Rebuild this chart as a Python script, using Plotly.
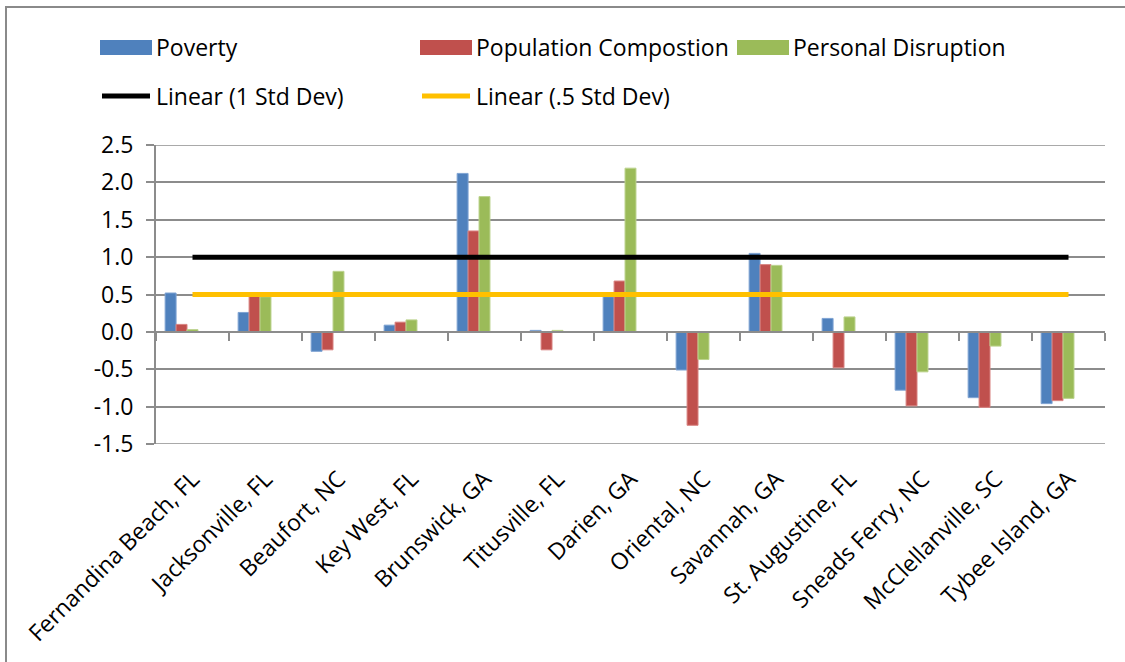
import plotly.graph_objects as go

# ---- data ----
categories = ["Fernandina Beach, FL", "Jacksonville, FL", "Beaufort, NC", "Key West, FL",
              "Brunswick, GA", "Titusville, FL", "Darien, GA", "Oriental, NC",
              "Savannah, GA", "St. Augustine, FL", "Sneads Ferry, NC",
              "McClellanville, SC", "Tybee Island, GA"]
poverty = [0.52, 0.26, -0.26, 0.09, 2.12, 0.02, 0.47, -0.51, 1.05, 0.18, -0.78, -0.88, -0.96]
population_compostion = [0.10, 0.48, -0.24, 0.13, 1.35, -0.24, 0.68, -1.25, 0.90, -0.48, -0.99, -1.01, -0.92]
personal_disruption = [0.03, 0.47, 0.81, 0.16, 1.81, 0.02, 2.19, -0.37, 0.89, 0.20, -0.535, -0.19, -0.89]
std_dev_1 = [1.0, 1.0, 1.0, 1.0, 1.0, 1.0, 1.0, 1.0, 1.0, 1.0, 1.0, 1.0, 1.0]
std_dev_05 = [0.5, 0.5, 0.5, 0.5, 0.5, 0.5, 0.5, 0.5, 0.5, 0.5, 0.5, 0.5, 0.5]
y_ticks = [-1.5, -1.0, -0.5, 0.0, 0.5, 1.0, 1.5, 2.0, 2.5]
y_tick_labels = ["-1.5", "-1.0", "-0.5", "0.0", "0.5", "1.0", "1.5", "2.0", "2.5"]

legend_bars = [("Poverty", "#4F81BD"), ("Population Compostion", "#C0504D"),
               ("Personal Disruption", "#9BBB59")]
legend_lines = [("Linear (1 Std Dev)", "#000000"), ("Linear (.5 Std Dev)", "#FFC000")]

# ---- layout geometry ----
W, H = 1125, 662
L, R, T, B = 156, 20, 145, 218
FONT = "Open Sans"
FS = 23
GRID = "#8c8c8c"


def px(x):
    return (x - L) / (W - L - R)


def py(y):
    return (H - B - y) / (H - T - B)


fig = go.Figure()

bar_colors = ["#4F81BD", "#C0504D", "#9BBB59"]
bar_lines = ["#7FA3D3", "#D98482", "#BCD38E"]
for name, vals, col, lc in zip(["Poverty", "Population Compostion", "Personal Disruption"],
                               [poverty, population_compostion, personal_disruption],
                               bar_colors, bar_lines):
    fig.add_trace(go.Bar(x=categories, y=vals, name=name,
                         marker=dict(color=col, line=dict(color=lc, width=1)),
                         showlegend=False))
# hidden series (only their trendlines are shown)
for name, vals in [("1 Std Dev", std_dev_1), (".5 Std Dev", std_dev_05)]:
    fig.add_trace(go.Bar(x=categories, y=vals, name=name,
                         marker=dict(color="rgba(0,0,0,0)", line=dict(width=0)),
                         showlegend=False, hoverinfo="skip"))

# trendlines on overlay axis (x2)
fig.add_trace(go.Scatter(x=categories, y=std_dev_1, mode="lines", name="Linear (1 Std Dev)",
                         line=dict(color="#000000", width=5), xaxis="x2", yaxis="y", showlegend=False))
fig.add_trace(go.Scatter(x=categories, y=std_dev_05, mode="lines", name="Linear (.5 Std Dev)",
                         line=dict(color="#FFC000", width=5), xaxis="x2", yaxis="y", showlegend=False))

shapes = []
annotations = []
# chart border (only left and top edges are inside the picture)
shapes.append(dict(type="line", xref="paper", yref="paper", x0=px(6), x1=px(6), y0=py(662), y1=py(6),
                   line=dict(color="#8a8a8a", width=2), layer="below"))
shapes.append(dict(type="line", xref="paper", yref="paper", x0=px(5), x1=px(1125), y0=py(7), y1=py(7),
                   line=dict(color="#8a8a8a", width=2), layer="below"))
# edge gridlines (top and bottom of the value axis)
for yv in (y_ticks[0], y_ticks[-1]):
    shapes.append(dict(type="line", xref="paper", yref="y", x0=0, x1=1, y0=yv, y1=yv,
                       line=dict(color=GRID, width=1.5), layer="below"))
# manual legend
bar_x = [100, 420, 737]
for (name, col), x0 in zip(legend_bars, bar_x):
    shapes.append(dict(type="rect", xref="paper", yref="paper", x0=px(x0), x1=px(x0 + 52),
                       y0=py(55), y1=py(40), fillcolor=col, line=dict(width=0)))
    annotations.append(dict(xref="paper", yref="paper", x=px(x0 + 54), y=py(47), text=name,
                            showarrow=False, xanchor="left", yanchor="middle",
                            font=dict(family=FONT, size=FS, color="black")))
line_x = [100, 420]
for (name, col), x0 in zip(legend_lines, line_x):
    shapes.append(dict(type="line", xref="paper", yref="paper", x0=px(x0 + 2), x1=px(x0 + 50),
                       y0=py(96), y1=py(96), line=dict(color=col, width=5)))
    annotations.append(dict(xref="paper", yref="paper", x=px(x0 + 54), y=py(96), text=name,
                            showarrow=False, xanchor="left", yanchor="middle",
                            font=dict(family=FONT, size=FS, color="black")))

fig.update_layout(
    template="none",
    width=W, height=H,
    margin=dict(l=L, r=R, t=T, b=B, autoexpand=False),
    paper_bgcolor="white", plot_bgcolor="white",
    barmode="group", bargap=0.25, bargroupgap=0,
    showlegend=False,
    font=dict(family=FONT, size=FS, color="black"),
    xaxis=dict(type="category", categoryarray=categories, range=[-0.5, 12.5],
               showline=False, showgrid=False, zeroline=False, ticks="", tickangle=-45,
               ticklabelstandoff=16,
               tickfont=dict(family=FONT, size=FS, color="black"), automargin=False),
    xaxis2=dict(type="category", categoryarray=categories, range=[-0.5, 12.5],
                overlaying="x", anchor="free", position=py(331.7), side="bottom",
                showline=True, linecolor=GRID, linewidth=2, showgrid=False, zeroline=False,
                ticks="outside", tickson="boundaries", ticklen=8, tickcolor=GRID, tickwidth=2,
                showticklabels=False),
    yaxis=dict(range=[-1.5, 2.5], tickvals=y_ticks, ticktext=y_tick_labels,
               showline=True, linecolor=GRID, linewidth=2,
               showgrid=True, gridcolor=GRID, gridwidth=1.5, zeroline=False,
               ticks="outside", ticklen=8, tickcolor=GRID, tickwidth=2,
               ticklabelstandoff=8,
               tickfont=dict(family=FONT, size=FS, color="black"), automargin=False),
    shapes=shapes, annotations=annotations,
)

fig.write_html("out.html", config={"displayModeBar": False},
               post_script="document.body.style.margin='0';document.body.style.overflow='hidden';"
                           "document.documentElement.style.overflow='hidden';")
